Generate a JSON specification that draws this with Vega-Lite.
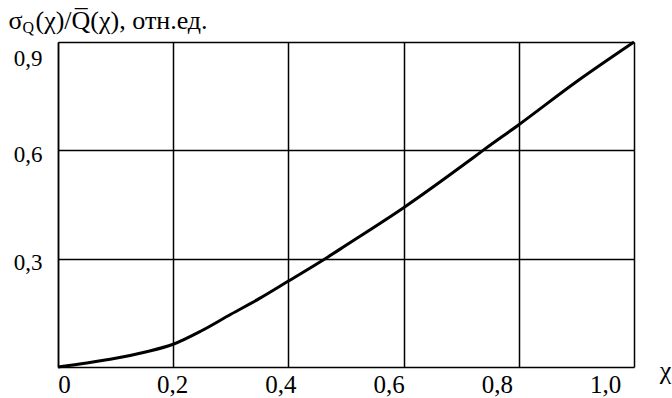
{
  "$schema": "https://vega.github.io/schema/vega-lite/v6.json",
  "width": 576,
  "height": 325,
  "autosize": {"type": "none"},
  "padding": {"left": 58, "top": 42, "right": 38, "bottom": 31},
  "background": "white",
  "config": {
    "view": {"stroke": null}
  },
  "data": {
    "values": [
      {"x": 0.0, "y": 0.0},
      {"x": 0.05, "y": 0.011},
      {"x": 0.1, "y": 0.024},
      {"x": 0.15, "y": 0.041},
      {"x": 0.2, "y": 0.063},
      {"x": 0.25, "y": 0.101},
      {"x": 0.3, "y": 0.146},
      {"x": 0.35, "y": 0.19},
      {"x": 0.4, "y": 0.238},
      {"x": 0.466, "y": 0.302},
      {"x": 0.5, "y": 0.337},
      {"x": 0.6, "y": 0.441},
      {"x": 0.7, "y": 0.555},
      {"x": 0.738, "y": 0.6},
      {"x": 0.8, "y": 0.671},
      {"x": 0.9, "y": 0.79},
      {"x": 1.0, "y": 0.9}
    ]
  },
  "resolve": {"axis": {"x": "independent"}},
  "layer": [
    {
      "mark": {"type": "line", "color": "black", "strokeWidth": 3, "interpolate": "monotone", "clip": false},
      "encoding": {
        "x": {
          "field": "x",
          "type": "quantitative",
          "scale": {"domain": [0, 1.0], "nice": false, "zero": false},
          "axis": {
            "values": [0, 0.2, 0.4, 0.6, 0.8, 1.0],
            "labelExpr": "datum.value == 0 ? '0' : replace(format(datum.value, '.1f'), '.', ',')",
            "labelFont": "Liberation Serif",
            "labelFontSize": 25,
            "labelColor": "black",
            "labelBaseline": "alphabetic",
            "labelPadding": 25,
            "labelFlush": false,
            "labelOverlap": false,
            "labelOffset": {"expr": "6 - 35 * datum.value"},
            "ticks": false,
            "tickSize": 0,
            "domainColor": "black",
            "domainWidth": 1.5,
            "grid": true,
            "gridColor": "black",
            "gridWidth": 1.5,
            "gridOpacity": 1,
            "title": "χ",
            "titleFont": "Liberation Serif",
            "titleFontWeight": "normal",
            "titleColor": "black",
            "titleX": 607,
            "titleY": 3,
            "titleAlign": "center",
            "titleBaseline": "middle",
            "titleFontSize": 26
          }
        },
        "y": {
          "field": "y",
          "type": "quantitative",
          "scale": {"domain": [0, 0.9], "nice": false, "zero": false},
          "axis": {
            "values": [0.3, 0.6, 0.9],
            "labelExpr": "replace(format(datum.value, '.1f'), '.', ',')",
            "labelFont": "Liberation Serif",
            "labelFontSize": 23,
            "labelColor": "black",
            "labelPadding": 16,
            "labelBaseline": "alphabetic",
            "labelOverlap": false,
            "labelOffset": {"condition": {"test": "datum.value >= 0.89", "value": 23}, "value": 11},
            "ticks": false,
            "tickSize": 0,
            "domainColor": "black",
            "domainWidth": 1.5,
            "grid": true,
            "gridColor": "black",
            "gridWidth": 1.5,
            "gridOpacity": 1,
            "title": "σ\u2002(χ)/Q̅(χ), отн.ед.",
            "titleFont": "Liberation Serif",
            "titleFontWeight": "normal",
            "titleColor": "black",
            "titleAngle": 0,
            "titleAlign": "left",
            "titleBaseline": "alphabetic",
            "titleX": -50,
            "titleY": -14,
            "titleFontSize": 26
          }
        }
      }
    },
    {
      "mark": {"type": "line", "opacity": 0},
      "encoding": {
        "x": {
          "field": "x",
          "type": "quantitative",
          "axis": {
            "orient": "top",
            "labels": false,
            "ticks": false,
            "tickSize": 0,
            "domain": false,
            "grid": false,
            "title": "Q",
            "titleFont": "Liberation Serif",
            "titleFontWeight": "normal",
            "titleFontSize": 16,
            "titleColor": "black",
            "titleAlign": "left",
            "titleBaseline": "alphabetic",
            "titleAnchor": "start",
            "titleX": -36,
            "titleY": -10
          }
        },
        "y": {"field": "y", "type": "quantitative"}
      }
    }
  ]
}
